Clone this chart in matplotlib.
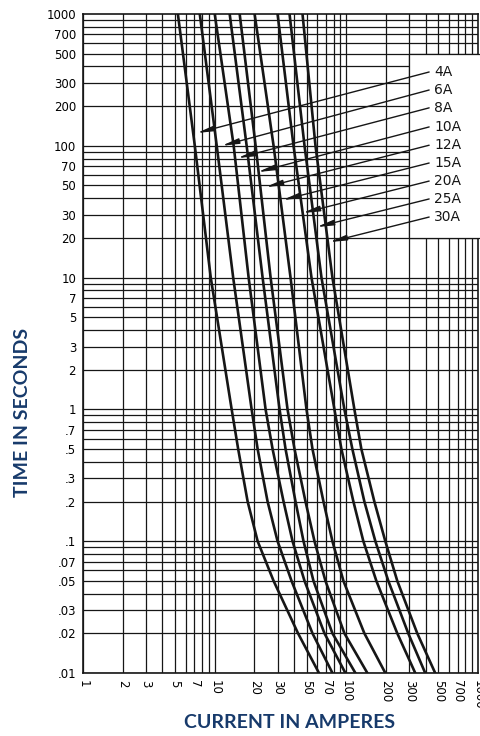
import numpy as np
import matplotlib.pyplot as plt
from matplotlib.patches import Rectangle

# time levels (s) at which the curves were read
times = [1000, 100, 10, 1, 0.5, 0.2, 0.1, 0.05, 0.02, 0.01]

# current (A) of each fuse curve at those times
fuse_labels = ['4A', '6A', '8A', '10A', '12A', '15A', '20A', '25A', '30A']
amps_4a = [5.25, 7.06, 9.33, 13.45, 15.07, 17.78, 21.18, 27.99, 42.92, 61.9]
amps_6a = [7.70, 10.36, 13.81, 19.07, 21.18, 25.2, 30.01, 38.31, 55.26, 78.32]
amps_8a = [10.0, 13.93, 18.09, 24.34, 27.51, 33.32, 38.99, 48.08, 68.13, 98.26]
amps_10a = [12.99, 17.48, 23.1, 31.08, 34.51, 41.08, 47.24, 56.23, 78.32, 117.0]
amps_12a = [15.47, 20.45, 26.57, 35.73, 40.37, 48.91, 57.23, 69.33, 96.56, 144.2]
amps_15a = [20.09, 27.99, 37.65, 49.77, 55.26, 66.96, 78.32, 94.91, 136.9, 197.5]
amps_20a = [30.01, 39.67, 54.31, 81.11, 91.65, 113.0, 134.5, 168.8, 243.4, 333.2]
amps_25a = [37.0, 48.08, 64.67, 96.56, 111.0, 136.9, 165.9, 208.1, 294.9, 396.7]
amps_30a = [46.42, 58.24, 78.32, 115.0, 129.9, 163.0, 197.5, 243.4, 345.1, 472.3]
curves = [amps_4a, amps_6a, amps_8a, amps_10a, amps_12a,
          amps_15a, amps_20a, amps_25a, amps_30a]

# where each leader arrow touches its curve
arrow_amps = [7.31, 11.3, 14.9, 21.2, 24.3, 32.7, 46.4, 59.3, 74.3]
arrow_times = [125, 100, 80.7, 63.2, 48.6, 38.8, 30.9, 24.2, 18.6]
# label positions (time) in the legend box
label_times = [363, 265, 194, 139, 101, 74, 54, 39.5, 28.8]

x_ticks = [1, 2, 3, 5, 7, 10, 20, 30, 50, 70, 100, 200, 300, 500, 700, 1000]
x_ticklabels = ['1', '2', '3', '5', '7', '10', '20', '30', '50', '70',
                '100', '200', '300', '500', '700', '1000']
y_ticks = [1000, 700, 500, 300, 200, 100, 70, 50, 30, 20, 10, 7, 5, 3, 2, 1,
           .7, .5, .3, .2, .1, .07, .05, .03, .02, .01]
y_ticklabels = ['1000', '700', '500', '300', '200', '100', '70', '50', '30',
                '20', '10', '7', '5', '3', '2', '1', '.7', '.5', '.3', '.2',
                '.1', '.07', '.05', '.03', '.02', '.01']

navy = '#173a6b'
ink = '#161616'

fig = plt.figure(figsize=(4.8, 7.36), dpi=100)
ax = fig.add_axes([0.173, 0.0856, 0.823, 0.8954])
ax.set_xscale('log')
ax.set_yscale('log')
ax.set_xlim(1, 1000)
ax.set_ylim(0.01, 1000)

# full log grid 1..9 per decade
for d in [1, 10, 100]:
    for m in range(1, 10):
        ax.axvline(d * m, color=ink, lw=0.9, zorder=1)
for d in [0.01, 0.1, 1, 10, 100]:
    for m in range(1, 10):
        ax.axhline(d * m, color=ink, lw=0.9, zorder=1)

# white box for the labels
ax.add_patch(Rectangle((300, 20), 800, 480, facecolor='white', edgecolor=ink,
                       lw=0.9, zorder=3, clip_on=False))

for amps in curves:
    ax.plot(amps, times, color=ink, lw=1.9, zorder=4)

for lab, ax_a, ax_t, lt in zip(fuse_labels, arrow_amps, arrow_times, label_times):
    ax.annotate('', xy=(ax_a, ax_t), xytext=(425, lt),
                arrowprops=dict(arrowstyle='-|>,head_length=1.0,head_width=0.16',
                                color=ink, lw=1.0, shrinkA=0, shrinkB=0),
                zorder=5, annotation_clip=False)
    ax.text(464, lt, lab, fontsize=10, va='center', ha='left', color=ink, zorder=6)

ax.set_xticks(x_ticks)
ax.set_xticklabels(x_ticklabels, rotation=270, fontsize=8.5)
ax.set_yticks(y_ticks)
ax.set_yticklabels(y_ticklabels, fontsize=8.5)
ax.minorticks_off()
ax.tick_params(length=0, pad=5)
for s in ax.spines.values():
    s.set_linewidth(1.2)
    s.set_color(ink)
    s.set_zorder(2)

fig.text(0.604, 0.019, 'CURRENT IN AMPERES', color=navy, fontsize=14,
         fontweight='bold', family='Lato', ha='center', va='center')
fig.text(0.046, 0.44, 'TIME IN SECONDS', color=navy, fontsize=14,
         fontweight='bold', family='Lato', ha='center', va='center', rotation=90)

fig.savefig('out.png', dpi=100)
